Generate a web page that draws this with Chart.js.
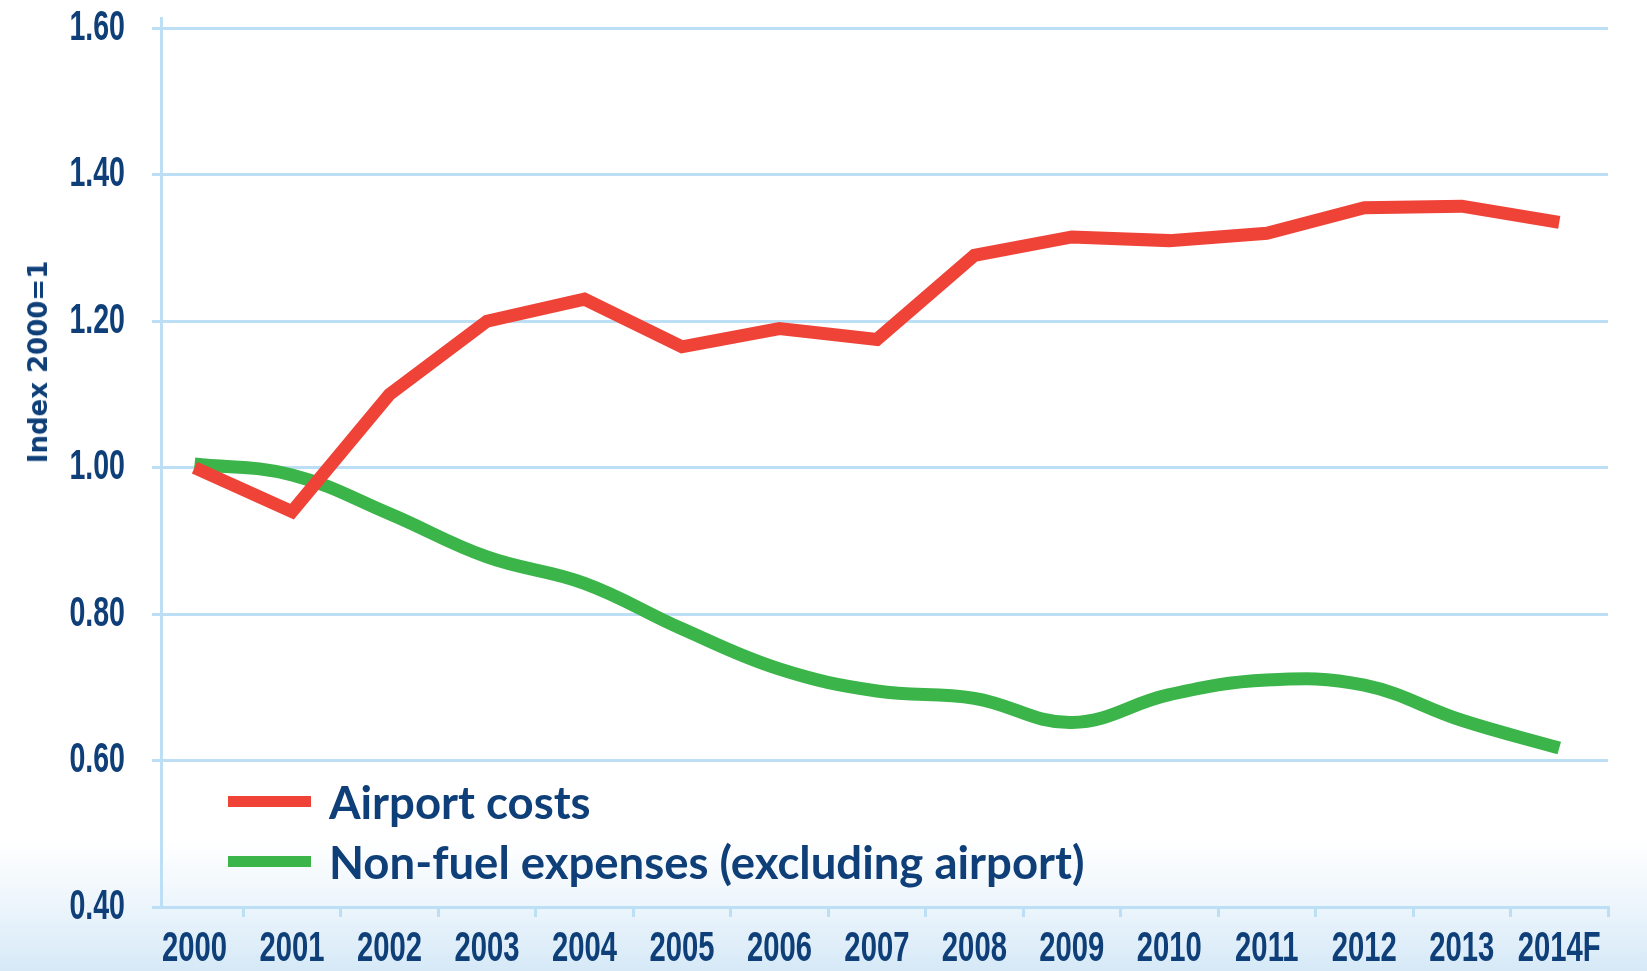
<!DOCTYPE html>
<html>
<head>
<meta charset="utf-8">
<title>Airport costs vs non-fuel expenses</title>
<script src="https://cdn.jsdelivr.net/npm/chart.js@4.4.1/dist/chart.umd.min.js"></script>
<style>
  html, body { margin: 0; padding: 0; }
  body {
    width: 1647px; height: 971px; overflow: hidden; position: relative;
    background: linear-gradient(to bottom, #ffffff 0px, #ffffff 840px, #eef6fc 900px, #d6e9f7 971px);
  }
  #chart { position: absolute; left: 0; top: 0; }
  #legend {
    position: absolute; left: 228px; top: 771px;
    font-family: Lato, "Open Sans", sans-serif; font-weight: 700; font-size: 45.5px; color: #0f3f78;
  }
  #legend .row { display: flex; align-items: center; height: 60px; white-space: nowrap; }
  #legend .swatch { display: inline-block; width: 83px; height: 11px; margin-right: 18px; }
  #ytitle {
    position: absolute; left: 38px; top: 362px; white-space: nowrap;
    transform: translate(-50%, -50%) rotate(-90deg);
    font-family: "DejaVu Sans", sans-serif; font-weight: bold; font-size: 26px; color: #0f3f78;
  }
</style>
</head>
<body>
<canvas id="chart" width="1647" height="971"></canvas>
<div id="ytitle">Index 2000=1</div>
<div id="legend"></div>
<script>
const years = ['2000', '2001', '2002', '2003', '2004', '2005', '2006', '2007', '2008', '2009', '2010', '2011', '2012', '2013', '2014F'];
const airportCosts = [1.00, 0.94, 1.10, 1.20, 1.23, 1.165, 1.19, 1.175, 1.29, 1.315, 1.31, 1.32, 1.355, 1.357, 1.335];
const nonFuelExpenses = [1.005, 0.99, 0.937, 0.878, 0.842, 0.78, 0.725, 0.695, 0.685, 0.652, 0.69, 0.71, 0.703, 0.655, 0.617];
const yTicks = [0.40, 0.60, 0.80, 1.00, 1.20, 1.40, 1.60];

const navy = '#0f3f78', gridBlue = '#bddff5';
const tickFont = '"Liberation Sans", Arial, sans-serif';
const squeezeX = 0.68;   // no condensed face installed, so narrow the tick labels by hand

// legend drawn as html, overlaid on the plot like in the original
const htmlLegend = {
  id: 'htmlLegend',
  afterUpdate(chart) {
    const box = document.getElementById('legend');
    box.innerHTML = '';
    chart.data.datasets.forEach(ds => {
      const row = document.createElement('div');
      row.className = 'row';
      const sw = document.createElement('span');
      sw.className = 'swatch';
      sw.style.background = ds.borderColor;
      row.appendChild(sw);
      row.appendChild(document.createTextNode(ds.label));
      box.appendChild(row);
    });
  }
};

const condensedTicks = {
  id: 'condensedTicks',
  beforeDraw(chart) {
    Object.values(chart.scales).forEach(scale => {
      if (scale._squeezed) return;
      const orig = scale.drawLabels.bind(scale);
      scale.drawLabels = function (area) {
        const ctx = this.ctx;
        const fill = ctx.fillText;
        ctx.fillText = function (text, x, y, maxWidth) {
          this.save();
          this.scale(squeezeX, 1);
          if (maxWidth === undefined) fill.call(this, text, x / squeezeX, y);
          else fill.call(this, text, x / squeezeX, y, maxWidth);
          this.restore();
        };
        orig(area);
        delete ctx.fillText;
      };
      scale._squeezed = true;
    });
  }
};

new Chart(document.getElementById('chart'), {
  type: 'line',
  data: {
    datasets: [{
      label: 'Airport costs',
      data: airportCosts.map((v, i) => ({ x: i, y: v })),
      borderColor: '#ef4338',
      borderWidth: 13,
      tension: 0,
      pointRadius: 0,
      borderJoinStyle: 'miter'
    }, {
      label: 'Non-fuel expenses (excluding airport)',
      data: nonFuelExpenses.map((v, i) => ({ x: i, y: v })),
      borderColor: '#3bb54a',
      borderWidth: 13,
      tension: 0.4,
      pointRadius: 0
    }]
  },
  options: {
    responsive: false,
    animation: false,
    layout: { padding: { left: 0, right: 39, top: 18, bottom: 0 } },
    plugins: { legend: { display: false }, tooltip: { enabled: false } },
    scales: {
      x: {
        type: 'linear',
        min: -0.344,
        max: 14.5,
        afterBuildTicks: axis => { axis.ticks = years.map((y, i) => ({ value: i })); },
        afterFit: axis => { axis.height = 64; axis.paddingLeft = 0; axis.paddingRight = 0; },
        ticks: {
          autoSkip: false, maxRotation: 0, padding: 6,
          color: navy, font: { family: tickFont, size: 43, weight: 'bold' },
          callback: (v, i) => years[i]
        },
        grid: { offset: true, drawOnChartArea: false, color: gridBlue, lineWidth: 3, tickLength: 10 },
        border: { color: gridBlue, width: 3 }
      },
      y: {
        min: 0.4,
        max: 1.614,   // axis line runs a little past the top gridline
        afterBuildTicks: axis => { axis.ticks = yTicks.map(v => ({ value: v })); },
        afterFit: axis => { axis.width = 161; axis.paddingTop = 0; axis.paddingBottom = 0; },
        ticks: {
          padding: 27, color: navy, font: { family: tickFont, size: 42, weight: 'bold' },
          callback: v => v.toFixed(2)
        },
        grid: { color: gridBlue, lineWidth: 3, tickLength: 9 },
        border: { color: gridBlue, width: 3 }
      }
    }
  },
  plugins: [htmlLegend, condensedTicks]
});
</script>
</body>
</html>
